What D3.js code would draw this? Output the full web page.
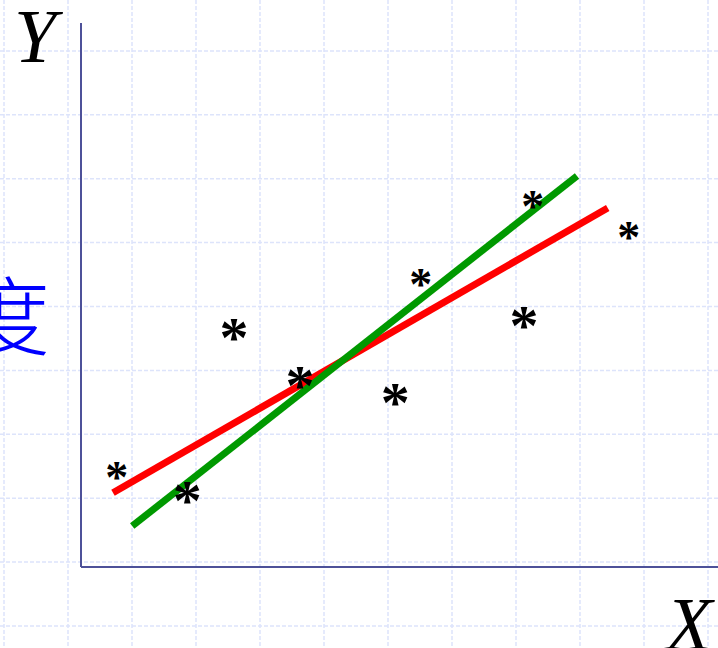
<!DOCTYPE html>
<html>
<head>
<meta charset="utf-8">
<script src="https://cdn.jsdelivr.net/npm/d3@7"></script>
<style>
  body { margin: 0; background: #fff; }
  svg { display: block; }
</style>
</head>
<body>
<div id="chart"></div>
<script>
// Sample points (x, y in grid units)
const pointX = [0.56, 1.66, 2.39, 3.42, 4.91, 5.31, 6.92, 7.06, 8.56];
const pointY = [1.47, 1.125, 3.67, 2.92, 2.66, 4.48, 3.86, 5.70, 5.22];
// big or small asterisk
const pointBig = [false, true, true, true, true, false, true, false, false];

// Fitted lines: [x0, y0, x1, y1]
const redLine = [0.50, 1.16, 8.23, 5.61];
const greenLine = [0.80, 0.64, 7.75, 6.11];

const yLabel = "Y", xLabel = "X", sideLabel = "度";

const W = 718, H = 648;
const origin = { x: 81, y: 567 };

const svg = d3.select("#chart")
              .append("svg")
              .attr("width", W)
              .attr("height", H);

// Scales: 64 px per unit
const x = d3.scaleLinear().domain([0, 10]).range([origin.x, origin.x + 640]);
const y = d3.scaleLinear().domain([0, 8.5]).range([origin.y, origin.y - 544]);

// Background grid
const grid = svg.append("g")
                .attr("stroke", "#dde4fb")
                .attr("stroke-width", 1.5)
                .attr("stroke-dasharray", "4,2");

grid.selectAll("line.v")
    .data(d3.range(4, W, 64))
    .join("line")
    .attr("class", "v")
    .attr("x1", d => d).attr("x2", d => d)
    .attr("y1", 0).attr("y2", H);

grid.selectAll("line.h")
    .data(d3.range(51 - 64, H, 63.9))
    .join("line")
    .attr("class", "h")
    .attr("y1", d => d).attr("y2", d => d)
    .attr("x1", 0).attr("x2", W);

// Axes
svg.append("line")
   .attr("x1", x(0)).attr("x2", x(0))
   .attr("y1", y(0)).attr("y2", y(8.5))
   .attr("stroke", "#4d5199")
   .attr("stroke-width", 2);

svg.append("line")
   .attr("x1", x(0)).attr("x2", W)
   .attr("y1", y(0)).attr("y2", y(0))
   .attr("stroke", "#4d5199")
   .attr("stroke-width", 2);

// Axis labels
svg.append("text")
   .attr("x", 14).attr("y", 62)
   .style("font-family", "'Liberation Serif', 'Times New Roman', serif")
   .style("font-style", "italic")
   .style("font-size", "76px")
   .text(yLabel);

svg.append("text")
   .attr("x", 666).attr("y", 650)
   .style("font-family", "'Liberation Serif', 'Times New Roman', serif")
   .style("font-style", "italic")
   .style("font-size", "76px")
   .text(xLabel);

svg.append("text")
   .attr("x", 50).attr("y", 349)
   .attr("text-anchor", "end")
   .attr("fill", "#0000ff")
   .style("font-family", "'Noto Sans CJK SC', sans-serif")
   .style("font-weight", 300)
   .style("font-size", "86px")
   .text(sideLabel);

// Fitted lines
const lineGen = d3.line().x(d => x(d[0])).y(d => y(d[1]));

svg.append("path")
   .datum([[redLine[0], redLine[1]], [redLine[2], redLine[3]]])
   .attr("d", lineGen)
   .attr("stroke", "#ff0000")
   .attr("stroke-width", 7)
   .attr("fill", "none");

svg.append("path")
   .datum([[greenLine[0], greenLine[1]], [greenLine[2], greenLine[3]]])
   .attr("d", lineGen)
   .attr("stroke", "#009900")
   .attr("stroke-width", 7)
   .attr("fill", "none");

// Asterisk points
const points = pointX.map((v, i) => ({ x: v, y: pointY[i], big: pointBig[i] }));

svg.selectAll("text.pt")
   .data(points)
   .join("text")
   .attr("class", "pt")
   .attr("text-anchor", "middle")
   .attr("x", d => x(d.x))
   .attr("y", d => y(d.y) + (d.big ? 58 : 46) * 0.43)
   .style("font-family", "'Liberation Serif', 'Times New Roman', serif")
   .style("font-weight", "bold")
   .style("font-size", d => (d.big ? 58 : 46) + "px")
   .text("*");
</script>
</body>
</html>
